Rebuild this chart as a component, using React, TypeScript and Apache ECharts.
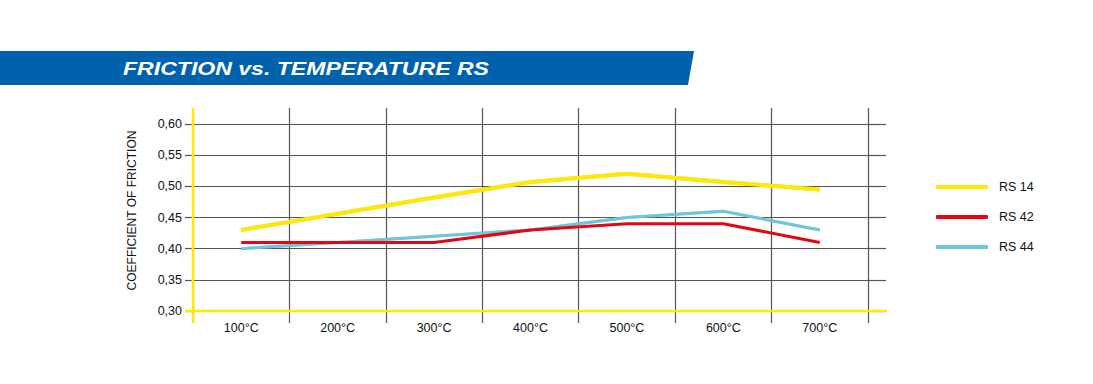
import React, { useEffect, useRef } from "react";
import * as echarts from "echarts";

const categories = ["100°C", "200°C", "300°C", "400°C", "500°C", "600°C", "700°C"];
const rs14 = [0.43, 0.456, 0.482, 0.507, 0.52, 0.507, 0.495];
const rs42 = [0.41, 0.41, 0.41, 0.43, 0.44, 0.44, 0.41];
const rs44 = [0.4, 0.41, 0.42, 0.43, 0.45, 0.46, 0.43];
const seriesNames = ["RS 14", "RS 42", "RS 44"];
const yMin = 0.3;
const yMax = 0.6;
const yStep = 0.05;

const FONT = "'Liberation Sans', Arial, Helvetica, sans-serif";
const GL = 193, GR = 868, GT = 124, GB = 311;
const YELLOW = "#ffe900";
const GRAY = "#555555";
const TEXT = "#111111";
const TITLE = "FRICTION vs. TEMPERATURE RS";

export default function App() {
  const ref = useRef<HTMLDivElement>(null);
  useEffect(() => {
    if (!ref.current) return;
    const chart = echarts.init(ref.current, undefined, { renderer: "svg" });
    let scaleX = 1.2;
    try {
      const ctx = document.createElement("canvas").getContext("2d");
      if (ctx) {
        ctx.font = `italic bold 19px ${FONT}`;
        const w = ctx.measureText(TITLE).width;
        if (w > 0) scaleX = 366 / w;
      }
    } catch (e) {}
    const axisBase = {
      type: "category" as const,
      data: categories,
      boundaryGap: true,
      axisLine: { show: false },
      axisTick: { show: true, length: 12, lineStyle: { color: GRAY, width: 1.2 } },
      axisLabel: { show: true, color: TEXT, fontSize: 12.5, fontFamily: FONT, margin: 10 },
      splitLine: { show: true, lineStyle: { color: GRAY, width: 1.2 } },
    };
    chart.setOption({
      animation: false,
      backgroundColor: "#ffffff",
      grid: { left: GL, right: 1093 - GR, top: GT, bottom: 384 - GB, containLabel: false },
      xAxis: [
        axisBase,
        {
          ...axisBase,
          position: "top",
          axisTick: { show: true, length: 16, lineStyle: { color: GRAY, width: 1.2 } },
          axisLabel: { show: false },
          splitLine: { show: false },
        },
      ],
      yAxis: [
        {
          type: "value",
          min: yMin,
          max: yMax,
          interval: yStep,
          axisLine: { show: false },
          axisTick: { show: true, length: 8, lineStyle: { color: GRAY, width: 1.2 } },
          axisLabel: {
            color: TEXT,
            fontSize: 12.5,
            fontFamily: FONT,
            margin: 11,
            formatter: (v: number) => v.toFixed(2).replace(".", ","),
          },
          splitLine: { show: true, lineStyle: { color: GRAY, width: 1.2 } },
        },
        {
          type: "value",
          position: "right",
          min: yMin,
          max: yMax,
          interval: yStep,
          axisLine: { show: false },
          axisTick: { show: true, length: 18, lineStyle: { color: GRAY, width: 1.2 } },
          axisLabel: { show: false },
          splitLine: { show: false },
        },
      ],
      legend: {
        data: seriesNames,
        orient: "vertical",
        left: 936,
        top: 180,
        padding: 0,
        icon: "roundRect",
        itemWidth: 52,
        itemHeight: 4,
        itemGap: 16,
        textStyle: { fontSize: 12.5, lineHeight: 14, color: TEXT, fontFamily: FONT, padding: [0, 0, 0, 6] },
      },
      series: [
        { name: seriesNames[0], type: "line", data: rs14, symbol: "none", color: YELLOW,
          lineStyle: { width: 4, color: YELLOW, shadowColor: "rgba(0,0,0,0.35)", shadowBlur: 1.5 }, z: 3 },
        { name: seriesNames[1], type: "line", data: rs42, symbol: "none", color: "#e30613",
          lineStyle: { width: 3, color: "#e30613" }, z: 4 },
        { name: seriesNames[2], type: "line", data: rs44, symbol: "none", color: "#6ec6dc",
          lineStyle: { width: 3, color: "#6ec6dc", shadowColor: "rgba(0,0,0,0.3)", shadowBlur: 1 }, z: 2 },
      ],
      graphic: [
        { type: "polygon", shape: { points: [[0, 51], [694, 51], [688, 85], [0, 85]] }, style: { fill: "#0062ad" }, z: 1 },
        { type: "text", x: 123, y: 68.5, scaleX, z: 2,
          style: { text: TITLE, fill: "#ffffff", font: `italic bold 19px ${FONT}`, verticalAlign: "middle", align: "left" } },
        { type: "text", x: 132, y: 210.5, rotation: Math.PI / 2, z: 2,
          style: { text: "COEFFICIENT OF FRICTION", fill: TEXT, font: `12px ${FONT}`, align: "center", verticalAlign: "middle" } },
        { type: "line", shape: { x1: GL, y1: 108, x2: GL, y2: 323 }, style: { stroke: YELLOW, lineWidth: 2.5 }, z: 10 },
        { type: "line", shape: { x1: 185, y1: GB, x2: 887, y2: GB }, style: { stroke: YELLOW, lineWidth: 2.5 }, z: 10 },
      ],
    });
    return () => chart.dispose();
  }, []);
  return <div ref={ref} style={{ position: "fixed", left: 0, top: 0, width: 1093, height: 384 }} />;
}
